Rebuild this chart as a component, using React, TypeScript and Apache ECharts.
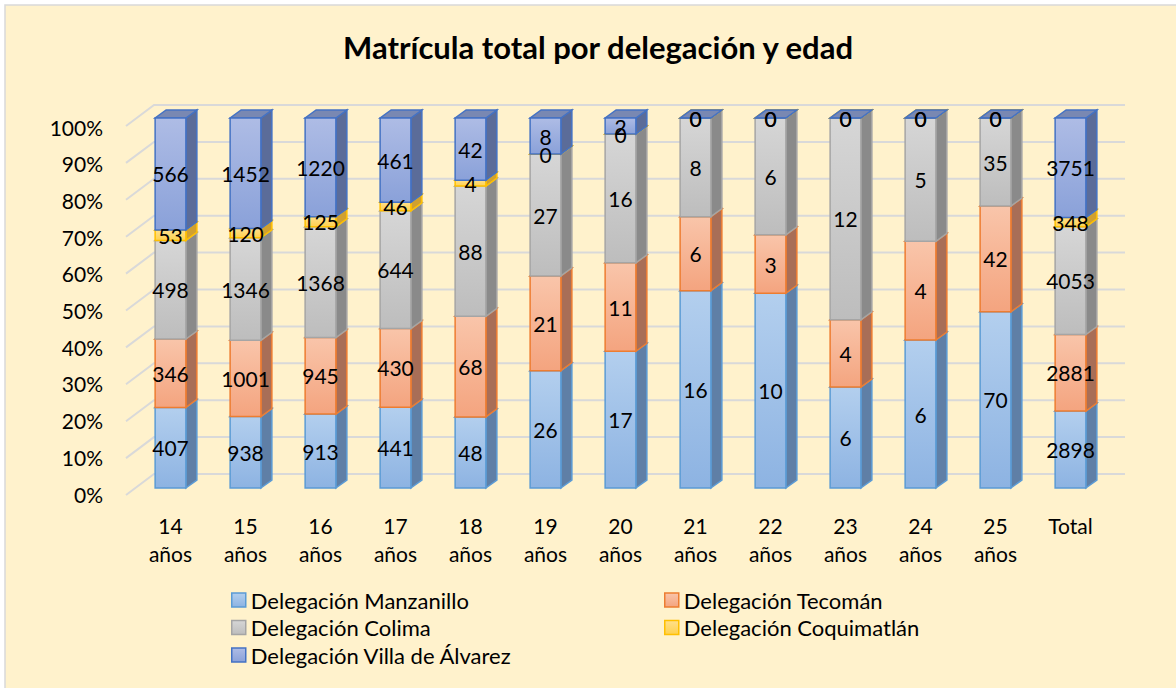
import React, { useEffect, useRef } from 'react';
import * as echarts from 'echarts';

// ---------- DATA ----------
const CATEGORIES = [
  '14\naños', '15\naños', '16\naños', '17\naños', '18\naños', '19\naños',
  '20\naños', '21\naños', '22\naños', '23\naños', '24\naños', '25\naños', 'Total',
];
const MANZANILLO = [407, 938, 913, 441, 48, 26, 17, 16, 10, 6, 6, 70, 2898];
const TECOMAN = [346, 1001, 945, 430, 68, 21, 11, 6, 3, 4, 4, 42, 2881];
const COLIMA = [498, 1346, 1368, 644, 88, 27, 16, 8, 6, 12, 5, 35, 4053];
const COQUIMATLAN = [53, 120, 125, 46, 4, 0, 0, 0, 0, 0, 0, 0, 348];
const VILLA = [566, 1452, 1220, 461, 42, 8, 2, 0, 0, 0, 0, 0, 3751];
const SERIES_NAMES = [
  'Delegación Manzanillo',
  'Delegación Tecomán',
  'Delegación Colima',
  'Delegación Coquimatlán',
  'Delegación Villa de Álvarez',
];
const Y_TICKS = [0, 10, 20, 30, 40, 50, 60, 70, 80, 90, 100];
const TITLE = 'Matrícula total por delegación y edad';

// ---------- STYLE ----------
const FONT = 'Lato, Carlito, "Noto Sans", sans-serif';
const STYLES = [
  { top: '#B3CFEE', bottom: '#8DB3E2', border: '#5B9BD5', side: '#5F7FA6', cap: '#7D98BE' },
  { top: '#F9C5AA', bottom: '#F4A47F', border: '#ED7D31', side: '#A86E57', cap: '#C28570' },
  { top: '#D6D6D6', bottom: '#BDBDBD', border: '#A5A5A5', side: '#8A8A8A', cap: '#A3A3A3' },
  { top: '#FFE08C', bottom: '#FFD14D', border: '#FFC000', side: '#D0A030', cap: '#E0B850' },
  { top: '#AEBCE5', bottom: '#8AA1D9', border: '#4472C4', side: '#5B6C99', cap: '#7988B2' },
];
const BAR_DX = 11;
const BAR_DY = -8;
const BAR_RATIO = 0.41;
const FLOOR_DX = -28;
const FLOOR_DY = 21;

function buildOption() {
  const seriesValues = [MANZANILLO, TECOMAN, COLIMA, COQUIMATLAN, VILLA];
  const totals = CATEGORIES.map((_, i) => seriesValues.reduce((s, arr) => s + arr[i], 0));
  const cum = CATEGORIES.map(() => 0);

  const barSeries = seriesValues.map((vals, si) => {
    const st = STYLES[si];
    const data = vals.map((v, ci) => {
      const start = cum[ci];
      const end = start + (v / totals[ci]) * 100;
      cum[ci] = end;
      return [ci, start, end, v];
    });
    return {
      type: 'custom',
      name: SERIES_NAMES[si],
      xAxisIndex: 0,
      yAxisIndex: 0,
      z: 3,
      itemStyle: { color: st.bottom, borderColor: st.border },
      encode: { x: 0, y: 2 },
      data,
      renderItem: (params: any, api: any) => {
        const ci = api.value(0);
        const start = api.value(1);
        const end = api.value(2);
        const raw = api.value(3);
        const x = api.coord([ci, 0])[0];
        const y0 = api.coord([ci, start])[1];
        const y1 = api.coord([ci, end])[1];
        const bw = api.size([1, 0])[0] * BAR_RATIO;
        const xl = x - bw / 2;
        const xr = x + bw / 2;
        return {
          type: 'group',
          children: [
            {
              type: 'polygon',
              shape: {
                points: [
                  [xr, y0],
                  [xr + BAR_DX, y0 + BAR_DY],
                  [xr + BAR_DX, y1 + BAR_DY],
                  [xr, y1],
                ],
              },
              style: { fill: st.side, stroke: st.border, lineWidth: 1.5 },
            },
            {
              type: 'polygon',
              shape: {
                points: [
                  [xl, y1],
                  [xr, y1],
                  [xr + BAR_DX, y1 + BAR_DY],
                  [xl + BAR_DX, y1 + BAR_DY],
                ],
              },
              style: { fill: st.cap, stroke: st.border, lineWidth: 1.5 },
            },
            {
              type: 'rect',
              shape: { x: xl, y: y1, width: bw, height: y0 - y1 },
              style: {
                fill: {
                  type: 'linear', x: 0, y: 0, x2: 0, y2: 1,
                  colorStops: [
                    { offset: 0, color: st.top },
                    { offset: 1, color: st.bottom },
                  ],
                },
                stroke: st.border,
                lineWidth: 1.5,
              },
            },
            {
              type: 'text',
              z2: 100,
              style: {
                text: String(raw),
                x: x,
                y: (y0 + y1) / 2,
                align: 'center',
                verticalAlign: 'middle',
                fontSize: 21,
                fontFamily: FONT,
                fill: '#000000',
              },
            },
          ],
        };
      },
    };
  });

  const gridSeries = {
    type: 'custom',
    xAxisIndex: 1,
    yAxisIndex: 1,
    z: 1,
    silent: true,
    encode: { x: 0, y: 1 },
    data: Y_TICKS.map((v) => [0, v]),
    renderItem: (params: any, api: any) => {
      const v = api.value(1);
      const L = api.coord([0, v]);
      const R = api.coord([1, v]);
      return {
        type: 'polyline',
        shape: { points: [[L[0] + FLOOR_DX, L[1] + FLOOR_DY], L, R] },
        style: { stroke: '#D9D9D9', lineWidth: 2, fill: 'none' },
      };
    },
  };

  const legendCommon = {
    orient: 'vertical',
    top: 589,
    padding: 0,
    itemWidth: 14,
    itemHeight: 14,
    itemGap: 5.5,
    icon: 'rect',
    textStyle: { fontSize: 22, fontFamily: FONT, color: '#000000', lineHeight: 22 },
  };
  const legendItem = (i: number) => ({
    name: SERIES_NAMES[i],
    itemStyle: {
      color: {
        type: 'linear', x: 0, y: 0, x2: 0, y2: 1,
        colorStops: [
          { offset: 0, color: STYLES[i].top },
          { offset: 1, color: STYLES[i].bottom },
        ],
      },
      borderColor: STYLES[i].border,
      borderWidth: 1.5,
    },
  });

  return {
    animation: false,
    backgroundColor: '#FFFFFF',
    graphic: [
      {
        type: 'rect',
        z: -10,
        silent: true,
        shape: { x: 5, y: 5, width: 1200, height: 720 },
        style: { fill: '#FFF2CC', stroke: '#D9D9D9', lineWidth: 1.5 },
      },
    ],
    title: {
      text: TITLE,
      left: 338,
      top: 26,
      textStyle: { fontFamily: FONT, fontWeight: 'bold', fontSize: 31, color: '#000000' },
    },
    legend: [
      { ...legendCommon, left: 231, data: [legendItem(0), legendItem(2), legendItem(4)] },
      { ...legendCommon, left: 664, data: [legendItem(1), legendItem(3)] },
    ],
    grid: [
      { left: 133, right: 68, top: 118, bottom: 200 },
      { left: 154, right: 51, top: 105, bottom: 214 },
      { left: 126, right: 78, top: 127, bottom: 194 },
    ],
    xAxis: [
      {
        gridIndex: 0,
        type: 'category',
        data: CATEGORIES,
        axisLine: { show: false },
        axisTick: { show: false },
        splitLine: { show: false },
        axisLabel: {
          margin: 23,
          fontSize: 21,
          lineHeight: 28,
          fontFamily: FONT,
          color: '#000000',
          interval: 0,
        },
      },
      { gridIndex: 1, type: 'value', min: 0, max: 1, show: false },
      { gridIndex: 2, type: 'value', min: 0, max: 1, show: false },
    ],
    yAxis: [
      { gridIndex: 0, type: 'value', min: 0, max: 100, show: false },
      { gridIndex: 1, type: 'value', min: 0, max: 100, show: false },
      {
        gridIndex: 2,
        type: 'value',
        min: 0,
        max: 100,
        interval: 10,
        axisLine: { show: false },
        axisTick: { show: false },
        splitLine: { show: false },
        axisLabel: {
          formatter: '{value}%',
          margin: 23,
          fontSize: 21,
          fontFamily: FONT,
          color: '#000000',
        },
      },
    ],
    series: [gridSeries, ...barSeries],
  };
}

export default function App() {
  const ref = useRef<HTMLDivElement>(null);
  useEffect(() => {
    const chart = echarts.init(ref.current as HTMLDivElement, null, { renderer: 'svg' });
    chart.setOption(buildOption() as any);
    return () => chart.dispose();
  }, []);
  return (
    <div
      ref={ref}
      style={{ position: 'absolute', left: 0, top: 0, width: 1176, height: 688 }}
    />
  );
}
